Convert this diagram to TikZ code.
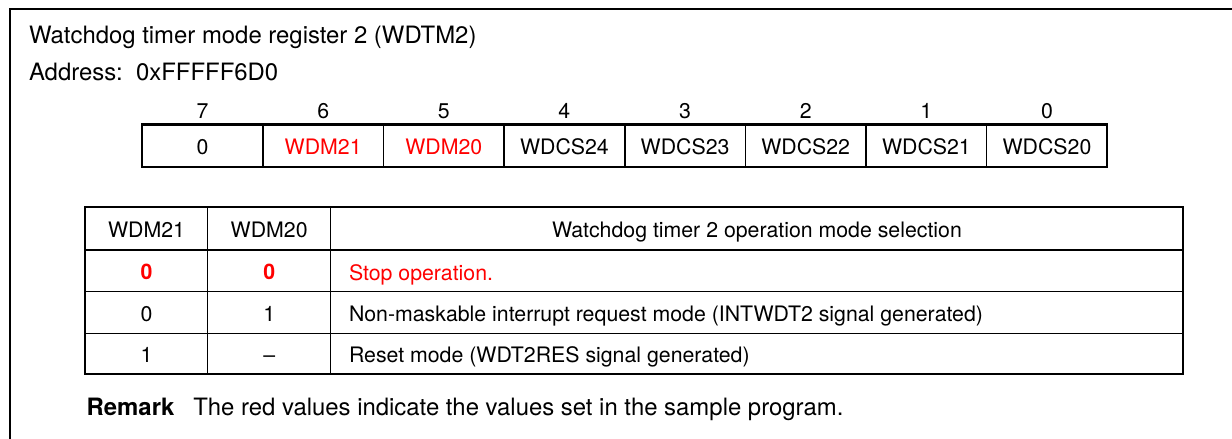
\documentclass[tikz,border=0pt]{standalone}
\usepackage{fontspec}
\setmainfont{TeX Gyre Heros}
\definecolor{setred}{RGB}{255,0,0}
\newcommand\fontCell{\fontsize{21.3}{25}\selectfont}
\newcommand\fontBig{\fontsize{23.9}{28}\selectfont}
\begin{document}
\begin{tikzpicture}[x=1pt,y=-1pt,
  every node/.style={inner sep=0pt, outer sep=0pt},
  frame/.style={line width=2pt},
  regcell/.style={draw, line width=1.5pt, minimum width=120.64pt, minimum height=42.7pt, text height=18pt, text depth=0pt, font=\fontCell},
  bitno/.style={anchor=base, font=\fontCell},
  tcell/.style={draw, line width=1.5pt, text height=18pt, text depth=0pt, font=\fontCell},
  hrow/.style={minimum height=43.2pt},
  rowa/.style={minimum height=41.7pt},
  rowb/.style={minimum height=41.6pt},
  rowc/.style={minimum height=40.7pt},
  colA/.style={minimum width=122.4pt},
  colB/.style={minimum width=123pt},
  colC/.style={minimum width=852.5pt},
  desc/.style={anchor=base west, font=\fontCell},
  bigtext/.style={anchor=base west, font=\fontBig},
  thickbox/.style={line width=2.3pt},
  setval/.style={text=setred}
]
\useasboundingbox (0,0) rectangle (1232,439);
% outer frame (open to the right and bottom)
\draw[frame, line join=miter] (9.7,439) -- (9.7,8.7) -- (1232,8.7);

% titles
\node[bigtext] (title) at (29,43.3) {Watchdog timer mode register 2 (WDTM2)};
\node[bigtext] (addr) at (29,80) {Address:\ \ 0xFFFFF6D0};

% bit numbers
\node[bitno] (n7) at (202.5,118.3) {7};
\node[bitno] (n6) at (323.2,118.3) {6};
\node[bitno] (n5) at (443.8,118.3) {5};
\node[bitno] (n4) at (564.4,118.3) {4};
\node[bitno] (n3) at (685.1,118.3) {3};
\node[bitno] (n2) at (805.7,118.3) {2};
\node[bitno] (n1) at (926.4,118.3) {1};
\node[bitno] (n0) at (1047.0,118.3) {0};

% register cells
\node[regcell] (b7) at (202.5,145.8) {0};
\node[regcell, setval] (b6) at (323.2,145.8) {WDM21};
\node[regcell, setval] (b5) at (443.8,145.8) {WDM20};
\node[regcell] (b4) at (564.4,145.8) {WDCS24};
\node[regcell] (b3) at (685.1,145.8) {WDCS23};
\node[regcell] (b2) at (805.7,145.8) {WDCS22};
\node[regcell] (b1) at (926.4,145.8) {WDCS21};
\node[regcell] (b0) at (1047.0,145.8) {WDCS20};
\draw[thickbox] (b7.north west) rectangle (b0.south east);

% table header
\node[tcell, colA, hrow] (h1) at (146.5,228.4) {WDM21};
\node[tcell, colB, hrow] (h2) at (269.2,228.4) {WDM20};
\node[tcell, colC, hrow] (h3) at (756.95,228.4) {Watchdog timer 2 operation mode selection};
% row 1
\node[tcell, colA, rowa, setval, font=\fontCell\bfseries] (r1a) at (146.5,270.85) {0};
\node[tcell, colB, rowa, setval, font=\fontCell\bfseries] (r1b) at (269.2,270.85) {0};
\node[tcell, colC, rowa] (r1c) at (756.95,270.85) {};
\node[desc, setval] (r1t) at (349,280) {Stop operation.};
% row 2
\node[tcell, colA, rowb] (r2a) at (146.5,312.5) {0};
\node[tcell, colB, rowb] (r2b) at (269.2,312.5) {1};
\node[tcell, colC, rowb] (r2c) at (756.95,312.5) {};
\node[desc] (r2t) at (349,321.5) {Non-maskable interrupt request mode (INTWDT2 signal generated)};
% row 3
\node[tcell, colA, rowc] (r3a) at (146.5,353.65) {1};
\node[tcell, colB, rowc] (r3b) at (269.2,353.65) {\textendash};
\node[tcell, colC, rowc] (r3c) at (756.95,353.65) {};
\node[desc] (r3t) at (349,362.6) {Reset mode (WDT2RES signal generated)};
% thicker lines
\draw[line width=2pt] (h1.south west) -- (h3.south east);
\draw[thickbox] (h1.north west) rectangle (r3c.south east);

% remark
\node[bigtext, font=\fontBig\bfseries] (rem) at (86.7,415) {Remark};
\node[bigtext] (remtext) at (193.3,415) {The red values indicate the values set in the sample program.};
\end{tikzpicture}
\end{document}
